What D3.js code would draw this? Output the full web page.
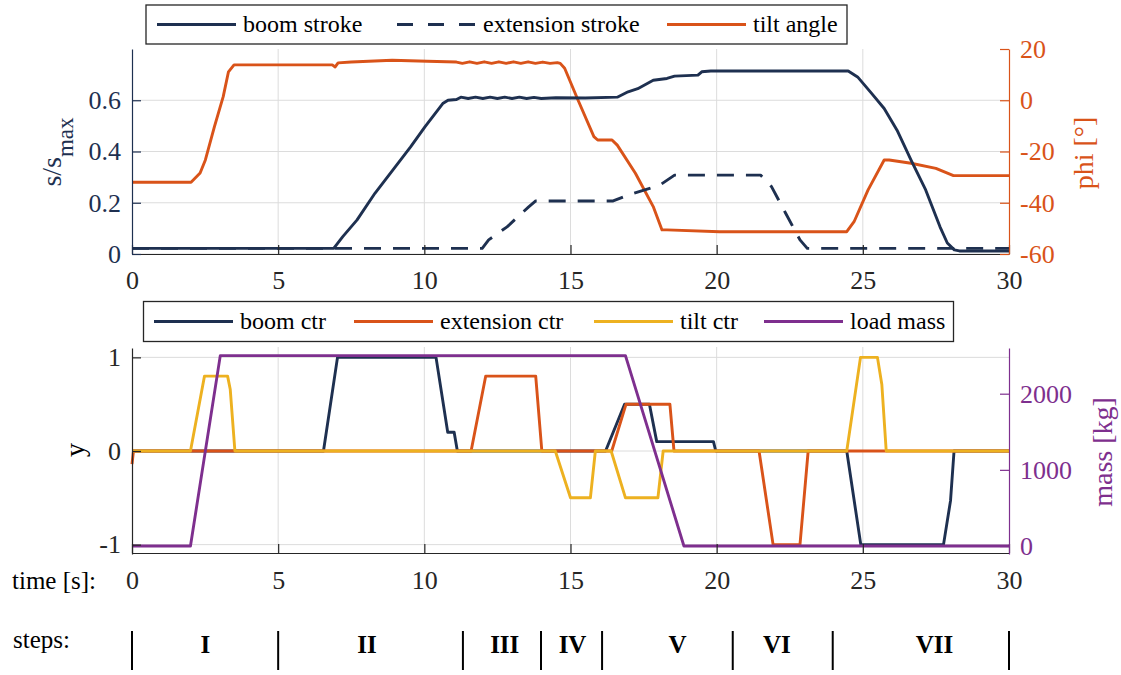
<!DOCTYPE html>
<html>
<head>
<meta charset="utf-8">
<script src="https://cdn.jsdelivr.net/npm/d3@7"></script>
</head>
<body style="margin:0;background:#fff">
<script>
// ---- data (time [s], value) ----
var boomStroke = [[0,0.022],[6.9,0.022],[7.21,0.068],[7.7,0.133],[8.31,0.237],[8.92,0.327],[9.53,0.418],
  [10.02,0.496],[10.63,0.587],[10.81,0.6],[11.1,0.603],[11.25,0.612],[11.5,0.607],[11.75,0.612],[12.0,0.607],
  [12.25,0.612],[12.5,0.607],[12.75,0.612],[13.0,0.607],[13.25,0.612],[13.5,0.607],[13.75,0.611],[14.0,0.607],
  [14.5,0.61],[15.5,0.609],[16.6,0.612],[16.97,0.633],[17.3,0.645],[17.83,0.678],[18.3,0.685],[18.56,0.694],
  [19.36,0.698],[19.49,0.711],[19.8,0.714],[24.5,0.714],[24.82,0.691],[25.3,0.627],[25.73,0.568],[26.17,0.483],
  [26.65,0.366],[27.15,0.25],[27.64,0.106],[27.89,0.043],[28.13,0.016],[28.3,0.012],[30,0.012]];
var extensionStroke = [[0,0.022],[11.98,0.022],[12.2,0.055],[12.83,0.106],[13.57,0.184],[13.81,0.207],
  [16.46,0.207],[16.97,0.23],[18.06,0.269],[18.56,0.308],[21.5,0.308],[21.88,0.262],[22.36,0.159],
  [22.85,0.055],[23.1,0.022],[30,0.022]];
var tiltAngle = [[0,-32],[2.02,-32],[2.33,-28.4],[2.51,-23.3],[2.82,-10.3],[3.12,1.4],[3.3,11.1],[3.49,13.8],
  [6.85,13.8],[6.95,13.0],[7.05,14.6],[7.5,14.9],[8.3,15.3],[8.9,15.6],[10.1,15.2],[11.1,14.9],[11.3,14.4],
  [11.55,15.0],[11.8,14.4],[12.05,15.0],[12.3,14.4],[12.55,15.0],[12.8,14.4],[13.05,15.0],[13.3,14.4],
  [13.55,15.0],[13.8,14.4],[14.05,14.9],[14.3,14.4],[14.55,14.7],[14.65,14.4],[14.8,12.5],[15.26,0],
  [15.8,-14.2],[15.93,-15.5],[16.42,-15.5],[16.6,-17.5],[17.22,-28.5],[17.83,-41.5],[18.13,-50.6],
  [18.3,-50.6],[20.1,-51.3],[24.45,-51.3],[24.7,-47.4],[25.18,-35],[25.73,-23.3],[25.9,-23.3],
  [26.65,-24.6],[27.5,-26.6],[28.1,-29.4],[30,-29.4]];

var boomCtr = [[0,0],[6.55,0],[7.03,1],[10.4,1],[10.8,0.2],[11.02,0.2],[11.13,0],[16.2,0],[16.85,0.5],
  [17.7,0.5],[17.95,0.1],[19.89,0.1],[19.97,0],[24.45,0],[24.93,-1],[27.76,-1],[28.0,-0.53],[28.12,0],[30,0]];
var extensionCtr = [[0,-0.14],[0.05,0],[11.6,0],[12.1,0.8],[13.81,0.8],[14.02,0],[16.41,0],[16.9,0.5],
  [18.4,0.5],[18.54,0],[21.45,0],[21.93,-1],[22.85,-1],[23.13,0],[30,0]];
var tiltCtr = [[0,0],[2.0,0],[2.48,0.8],[3.27,0.8],[3.36,0.66],[3.52,0],[14.48,0],[15.0,-0.5],[15.68,-0.5],
  [15.85,0],[16.39,0],[16.88,-0.5],[17.99,-0.5],[18.17,0],[24.45,0],[24.92,1],[25.5,1],[25.65,0.71],
  [25.8,0],[30,0]];
var loadMass = [[0,0],[2.0,0],[3.02,2500],[16.88,2500],[18.88,0],[30,0]];

var timeTicks = [0,5,10,15,20,25,30];
var strokeTicks = [0,0.2,0.4,0.6];
var phiTicks = [-60,-40,-20,0,20];
var ctrTicks = [-1,0,1];
var massTicks = [0,1000,2000];

var topLegend = ["boom stroke","extension stroke","tilt angle"];
var bottomLegend = ["boom ctr","extension ctr","tilt ctr","load mass"];

var stepBounds = [0,5,11.32,13.99,16.08,20.55,23.97,30];
var stepNames = ["I","II","III","IV","V","VI","VII"];
var stepLabelT = [2.51,8.04,12.75,15.07,18.66,22.06,27.45];

// ---- setup ----
var width = 1121, height = 675;
var navy = "#1e3050", orange = "#d95319", yellow = "#edb120", purple = "#7e2f8e", dark = "#262626";
var serif = "'Liberation Serif', 'Times New Roman', serif";

var svg = d3.select("body").append("svg")
  .attr("width", width)
  .attr("height", height)
  .style("font-family", serif);

var x = d3.scaleLinear().domain([0,30]).range([132,1009]);
var yStroke = d3.scaleLinear().domain([0,0.8]).range([254,49]);
var yPhi = d3.scaleLinear().domain([-60,20]).range([254,49]);
var yCtr = d3.scaleLinear().domain([-1.1,1.1]).range([554,348]);
var yMass = d3.scaleLinear().domain([-105,2600]).range([554,348]);

function styleAxis(g, color){
  g.attr("font-family", null).attr("font-size", null);
  g.select(".domain").attr("stroke", color).attr("stroke-width", 1.2);
  g.selectAll(".tick line").attr("stroke", color).attr("stroke-width", 1.2);
  g.selectAll(".tick text").attr("fill", color)
    .style("font-family", serif).style("font-size", "26px");
}

function grid(yScale, yTicks, y0, y1){
  var g = svg.append("g").attr("stroke", "#dcdcdc").attr("stroke-width", 1);
  g.selectAll(".vg").data(timeTicks.slice(1, -1)).enter().append("line")
    .attr("x1", function(d){ return x(d); }).attr("x2", function(d){ return x(d); })
    .attr("y1", y0).attr("y2", y1);
  g.selectAll(".hg").data(yTicks).enter().append("line")
    .attr("x1", x(0)).attr("x2", x(30))
    .attr("y1", function(d){ return yScale(d); }).attr("y2", function(d){ return yScale(d); });
}

function drawLine(data, yScale, color, dash){
  var line = d3.line()
    .x(function(d){ return x(d[0]); })
    .y(function(d){ return yScale(d[1]); });
  svg.append("path")
    .datum(data)
    .attr("d", line)
    .attr("fill", "none")
    .attr("stroke", color)
    .attr("stroke-width", 2.9)
    .attr("stroke-linejoin", "round")
    .attr("stroke-dasharray", dash || null);
}

function label(px, py, size){
  return svg.append("text")
    .attr("x", px).attr("y", py)
    .style("font-family", serif)
    .style("font-size", size + "px")
    .attr("fill", "#000");
}

function legend(bx, by, bw, bh, labels, colors, dashes, sampleX){
  svg.append("rect")
    .attr("x", bx).attr("y", by).attr("width", bw).attr("height", bh)
    .attr("fill", "#fff").attr("stroke", dark).attr("stroke-width", 1.3);
  var ly = by + bh / 2;
  labels.forEach(function(lab, i){
    svg.append("line")
      .attr("x1", sampleX[i]).attr("x2", sampleX[i] + 79)
      .attr("y1", ly).attr("y2", ly)
      .attr("stroke", colors[i]).attr("stroke-width", 3.2)
      .attr("stroke-dasharray", dashes[i] || null);
    label(sampleX[i] + 86, ly, 24).attr("dy", "0.33em").text(lab);
  });
}

function vLabel(px, py, color){
  return label(0, 0, 28)
    .attr("transform", "translate(" + px + "," + py + ") rotate(-90)")
    .attr("text-anchor", "middle")
    .attr("fill", color);
}

// ---- top panel ----
grid(yStroke, strokeTicks, 49, 254);
drawLine(tiltAngle, yPhi, orange);
drawLine(extensionStroke, yStroke, navy, "17 12");
drawLine(boomStroke, yStroke, navy);

svg.append("g")
  .attr("transform", "translate(0,254)")
  .call(d3.axisBottom(x).tickValues(timeTicks).tickSizeInner(-9).tickSizeOuter(0).tickPadding(17))
  .call(styleAxis, dark);
svg.append("g")
  .attr("transform", "translate(132,0)")
  .call(d3.axisLeft(yStroke).tickValues(strokeTicks).tickSizeInner(-9).tickSizeOuter(0).tickPadding(11)
    .tickFormat(function(d){ return String(d); }))
  .call(styleAxis, navy);
svg.append("g")
  .attr("transform", "translate(1009,0)")
  .call(d3.axisRight(yPhi).tickValues(phiTicks).tickSizeInner(-9).tickSizeOuter(0).tickPadding(11)
    .tickFormat(function(d){ return String(d); }))
  .call(styleAxis, orange);

var sLab = vLabel(61, 152, navy);
sLab.append("tspan").text("s/s");
sLab.append("tspan").style("font-size", "23px").attr("dy", 12).text("max");
vLabel(1093, 153, orange).text("phi [°]");

legend(146, 5, 701, 39, topLegend, [navy, navy, orange], [null, "16 15", null], [157, 397, 667]);

// ---- bottom panel ----
grid(yCtr, ctrTicks, 347, 553);
drawLine(boomCtr, yCtr, navy);
drawLine(extensionCtr, yCtr, orange);
drawLine(tiltCtr, yCtr, yellow);
drawLine(loadMass, yMass, purple);

svg.append("g")
  .attr("transform", "translate(0,553)")
  .call(d3.axisBottom(x).tickValues(timeTicks).tickSizeInner(-9).tickSizeOuter(0).tickPadding(18))
  .call(styleAxis, dark);
svg.append("g")
  .attr("transform", "translate(132,0)")
  .call(d3.axisLeft(yCtr).tickValues(ctrTicks).tickSizeInner(-9).tickSizeOuter(0).tickPadding(11)
    .tickFormat(function(d){ return String(d); }))
  .call(styleAxis, dark);
svg.append("g")
  .attr("transform", "translate(1009,0)")
  .call(d3.axisRight(yMass).tickValues(massTicks).tickSizeInner(-9).tickSizeOuter(0).tickPadding(11)
    .tickFormat(function(d){ return String(d); }))
  .call(styleAxis, purple);

vLabel(84, 450, "#000").text("y");
vLabel(1112, 452, purple).text("mass [kg]");

legend(143.5, 301.5, 810, 40, bottomLegend, [navy, orange, yellow, purple], [], [154, 354, 594, 764]);

label(12, 589, 25).text("time [s]:");

// ---- steps row ----
label(13, 648, 25).text("steps:");

svg.selectAll(".stepbar").data(stepBounds).enter().append("line")
  .attr("x1", function(d){ return x(d); }).attr("x2", function(d){ return x(d); })
  .attr("y1", 631).attr("y2", 670)
  .attr("stroke", "#000").attr("stroke-width", 2);

stepNames.forEach(function(name, i){
  label(x(stepLabelT[i]), 653, 25)
    .attr("text-anchor", "middle")
    .style("font-weight", "bold")
    .text(name);
});
</script>
</body>
</html>
